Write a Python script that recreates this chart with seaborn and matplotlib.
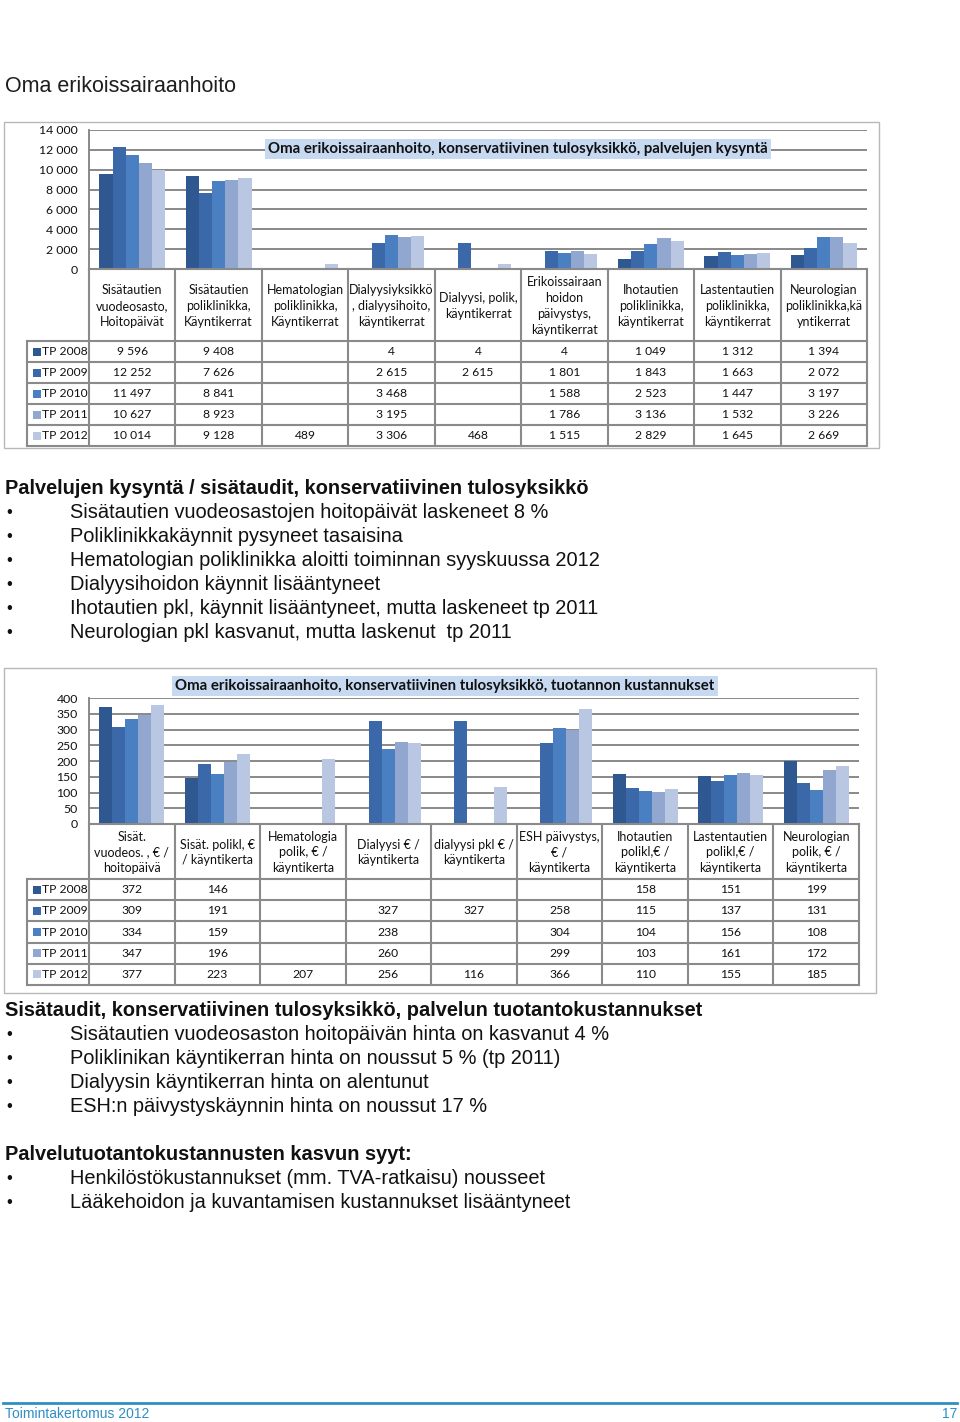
import numpy as np
import pandas as pd
import matplotlib
matplotlib.use("Agg")
import matplotlib.pyplot as plt
import seaborn as sns
from matplotlib.patches import Rectangle
from matplotlib.lines import Line2D
from matplotlib.ticker import FuncFormatter, MultipleLocator

# ---------------- data ----------------
years = ["TP 2008", "TP 2009", "TP 2010", "TP 2011", "TP 2012"]
year_colors = ["#2f5790", "#3b68a8", "#4a7fc1", "#91a7d0", "#b9c7e3"]

demand_categories = [
    "Sisätautien\nvuodeosasto,\nHoitopäivät",
    "Sisätautien\npoliklinikka,\nKäyntikerrat",
    "Hematologian\npoliklinikka,\nKäyntikerrat",
    "Dialyysiyksikkö\n, dialyysihoito,\nkäyntikerrat",
    "Dialyysi, polik,\nkäyntikerrat",
    "Erikoissairaan\nhoidon\npäivystys,\nkäyntikerrat",
    "Ihotautien\npoliklinikka,\nkäyntikerrat",
    "Lastentautien\npoliklinikka,\nkäyntikerrat",
    "Neurologian\npoliklinikka,kä\nyntikerrat",
]
nan = np.nan
demand_2008 = [9596, 9408, nan, 4, 4, 4, 1049, 1312, 1394]
demand_2009 = [12252, 7626, nan, 2615, 2615, 1801, 1843, 1663, 2072]
demand_2010 = [11497, 8841, nan, 3468, nan, 1588, 2523, 1447, 3197]
demand_2011 = [10627, 8923, nan, 3195, nan, 1786, 3136, 1532, 3226]
demand_2012 = [10014, 9128, 489, 3306, 468, 1515, 2829, 1645, 2669]
demand_series = [demand_2008, demand_2009, demand_2010, demand_2011, demand_2012]
demand_ticks = list(range(0, 14001, 2000))

cost_categories = [
    "Sisät.\nvuodeos. , € /\nhoitopäivä",
    "Sisät. polikl, €\n/ käyntikerta",
    "Hematologia\npolik, € /\nkäyntikerta",
    "Dialyysi € /\nkäyntikerta",
    "dialyysi pkl € /\nkäyntikerta",
    "ESH päivystys,\n€ /\nkäyntikerta",
    "Ihotautien\npolikl,€ /\nkäyntikerta",
    "Lastentautien\npolikl,€ /\nkäyntikerta",
    "Neurologian\npolik, € /\nkäyntikerta",
]
cost_2008 = [372, 146, nan, nan, nan, nan, 158, 151, 199]
cost_2009 = [309, 191, nan, 327, 327, 258, 115, 137, 131]
cost_2010 = [334, 159, nan, 238, nan, 304, 104, 156, 108]
cost_2011 = [347, 196, nan, 260, nan, 299, 103, 161, 172]
cost_2012 = [377, 223, 207, 256, 116, 366, 110, 155, 185]
cost_series = [cost_2008, cost_2009, cost_2010, cost_2011, cost_2012]
cost_ticks = list(range(0, 401, 50))

page_title = "Oma erikoissairaanhoito"
chart1_title = "Oma erikoissairaanhoito, konservatiivinen tulosyksikkö, palvelujen kysyntä"
chart2_title = "Oma erikoissairaanhoito, konservatiivinen tulosyksikkö, tuotannon kustannukset"

section1_heading = "Palvelujen kysyntä / sisätaudit, konservatiivinen tulosyksikkö"
section1_bullets = [
    "Sisätautien vuodeosastojen hoitopäivät laskeneet 8 %",
    "Poliklinikkakäynnit pysyneet tasaisina",
    "Hematologian poliklinikka aloitti toiminnan syyskuussa 2012",
    "Dialyysihoidon käynnit lisääntyneet",
    "Ihotautien pkl, käynnit lisääntyneet, mutta laskeneet tp 2011",
    "Neurologian pkl kasvanut, mutta laskenut  tp 2011",
]
section2_heading = "Sisätaudit, konservatiivinen tulosyksikkö, palvelun tuotantokustannukset"
section2_bullets = [
    "Sisätautien vuodeosaston hoitopäivän hinta on kasvanut 4 %",
    "Poliklinikan käyntikerran hinta on noussut 5 % (tp 2011)",
    "Dialyysin käyntikerran hinta on alentunut",
    "ESH:n päivystyskäynnin hinta on noussut 17 %",
]
section3_heading = "Palvelutuotantokustannusten kasvun syyt:"
section3_bullets = [
    "Henkilöstökustannukset (mm. TVA-ratkaisu) nousseet",
    "Lääkehoidon ja kuvantamisen kustannukset lisääntyneet",
]
footer_left = "Toimintakertomus 2012"
footer_right = "17"

# ---------------- layout ----------------
W, H = 960, 1422
fig = plt.figure(figsize=(W / 100, H / 100), dpi=100)
fig.patch.set_facecolor("white")


def fx(x):
    return x / W


def fy(y):
    return 1 - y / H


CHART_FONT = "Lato"
BODY_FONT = "Liberation Sans"
GRID = "#808080"
BORDER = "#8a8a8a"
TXT = "#111111"


def fmt(v):
    return f"{int(round(v)):,}".replace(",", " ")


def draw_chart(cats, series, ticks, frame, plot, cat_bottom, table_bottom,
               title, title_x, title_y):
    x0, y0, x1, y1 = frame
    fig.patches.append(Rectangle((fx(x0), fy(y1)), fx(x1) - fx(x0), fy(y0) - fy(y1),
                                 transform=fig.transFigure, fill=False,
                                 ec="#b8b8b8", lw=1.0))
    pl, pt, pr, pb = plot
    ax = fig.add_axes([fx(pl), fy(pb), fx(pr) - fx(pl), fy(pt) - fy(pb)])
    rows = []
    for yr, vals in zip(years, series):
        for c, v in zip(cats, vals):
            if not np.isnan(v):
                rows.append({"cat": c, "year": yr, "val": v})
    df = pd.DataFrame(rows)
    sns.barplot(data=df, x="cat", y="val", hue="year", order=cats, hue_order=years,
                palette=year_colors, width=0.76, saturation=1, errorbar=None,
                legend=False, linewidth=0, ax=ax)
    ax.set_xlim(-0.5, len(cats) - 0.5)
    ax.set_ylim(ticks[0], ticks[-1])
    ax.yaxis.set_major_locator(MultipleLocator(ticks[1] - ticks[0]))
    ax.yaxis.set_major_formatter(FuncFormatter(lambda v, p: fmt(v)))
    ax.grid(axis="y", color=GRID, lw=1.3)
    ax.grid(axis="x", visible=False)
    ax.set_axisbelow(True)
    for s in ["top", "right", "bottom"]:
        ax.spines[s].set_visible(False)
    ax.spines["left"].set_color(GRID)
    ax.spines["left"].set_linewidth(1.3)
    ax.tick_params(axis="x", length=0, labelbottom=False)
    ax.tick_params(axis="y", length=0, pad=8, labelsize=8.8, labelcolor=TXT)
    for lab in ax.get_yticklabels():
        lab.set_family(CHART_FONT)
    ax.set_xlabel("")
    ax.set_ylabel("")
    ax.patch.set_alpha(0)

    # data table
    tl = 27
    ncat = len(cats)
    colw = (pr - pl) / ncat
    leg = (pl - tl) / colw
    tax = fig.add_axes([fx(tl), fy(table_bottom), fx(pr) - fx(tl), fy(pb) - fy(table_bottom)])
    tax.set_xlim(-0.5 - leg, ncat - 0.5)
    tax.set_ylim(table_bottom - pb, 0)
    tax.axis("off")
    cath = cat_bottom - pb
    rh = (table_bottom - cat_bottom) / len(years)
    kw = dict(color=BORDER, lw=1.5, clip_on=False, solid_capstyle="projecting")
    tax.plot([-0.5, ncat - 0.5], [0, 0], **kw)
    for k in range(len(years) + 1):
        yy = cath + k * rh
        tax.plot([-0.5 - leg, ncat - 0.5], [yy, yy], **kw)
    for j in range(ncat + 1):
        tax.plot([-0.5 + j, -0.5 + j], [0, table_bottom - pb], **kw)
    tax.plot([-0.5 - leg, -0.5 - leg], [cath, table_bottom - pb], **kw)
    for i, c in enumerate(cats):
        tax.text(i, cath / 2 + 1, c, ha="center", va="center", fontsize=9,
                 family=CHART_FONT, color=TXT, linespacing=1.38)
    for r, (yr, vals) in enumerate(zip(years, series)):
        yc = cath + (r + 0.5) * rh
        tax.scatter([-0.5 - leg + 10 / colw], [yc], marker="s", s=32,
                    color=year_colors[r], linewidths=0, clip_on=False)
        tax.text(-0.5 - leg + 15.5 / colw, yc, yr, ha="left", va="center",
                 fontsize=8.7, family=CHART_FONT, color=TXT)
        for i, v in enumerate(vals):
            if not np.isnan(v):
                tax.text(i, yc, fmt(v), ha="center", va="center", fontsize=8.7,
                         family=CHART_FONT, color=TXT)

    fig.text(fx(title_x), fy(title_y), title, ha="left", va="center", fontsize=10.8,
             fontweight="bold", family=CHART_FONT, color=TXT,
             bbox=dict(boxstyle="square,pad=0.22", fc="#c6d9f1", ec="none"))


# page title
fig.text(fx(5), fy(87), page_title, ha="left", va="center", fontsize=15.5,
         family=BODY_FONT, color="#1e1e1e")

draw_chart(demand_categories, demand_series, demand_ticks,
           frame=(4, 122, 879, 448), plot=(89, 130, 867, 269),
           cat_bottom=341, table_bottom=446, title=chart1_title,
           title_x=268, title_y=149)

draw_chart(cost_categories, cost_series, cost_ticks,
           frame=(4, 668, 876, 993), plot=(89, 698, 859, 824),
           cat_bottom=879, table_bottom=985, title=chart2_title,
           title_x=175, title_y=686)


def section(heading, bullets, y_head, step=24):
    fig.text(fx(5), fy(y_head), heading, ha="left", va="center", fontsize=14.4,
             fontweight="bold", family=BODY_FONT, color=TXT)
    for k, b in enumerate(bullets):
        yy = y_head + step * (k + 1)
        fig.text(fx(6), fy(yy), "•", ha="left", va="center", fontsize=12,
                 family=BODY_FONT, color=TXT)
        fig.text(fx(70), fy(yy), b, ha="left", va="center", fontsize=14.4,
                 family=BODY_FONT, color=TXT)


section(section1_heading, section1_bullets, 489)
section(section2_heading, section2_bullets, 1011)
section(section3_heading, section3_bullets, 1155)

# footer
FOOT = "#2f8fc4"
fig.add_artist(Line2D([fx(3), fx(957)], [fy(1403), fy(1403)], transform=fig.transFigure,
                      color=FOOT, lw=2.0))
fig.text(fx(5), fy(1414), footer_left, ha="left", va="center", fontsize=10,
         family=BODY_FONT, color=FOOT)
fig.text(fx(957), fy(1414), footer_right, ha="right", va="center", fontsize=10,
         family=BODY_FONT, color=FOOT)

fig.savefig("out.png", dpi=100)
